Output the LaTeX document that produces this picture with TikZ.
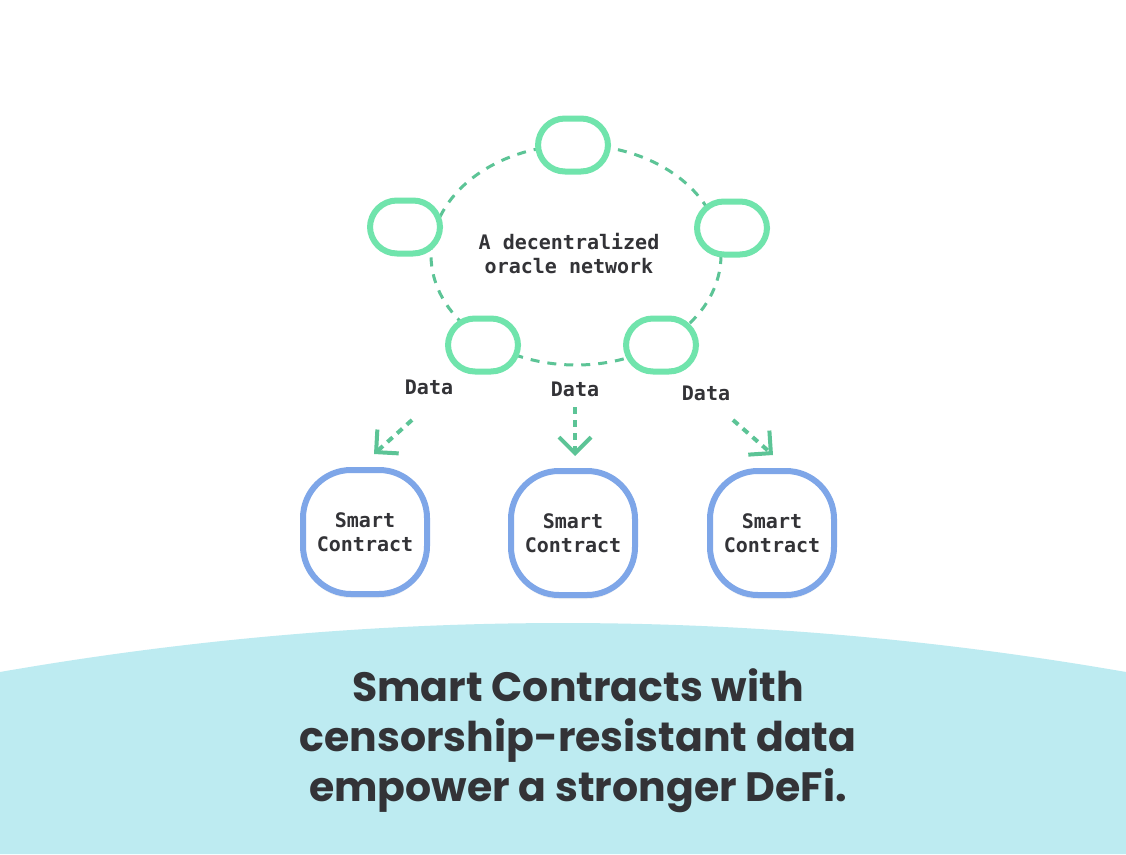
\documentclass[tikz,border=0pt]{standalone}
\usepackage{fontspec}
\usetikzlibrary{arrows.meta,shadows}
\newfontfamily\monofont{DejaVu Sans Mono}
\newfontfamily\titlefont{Poppins}
\definecolor{mint}{RGB}{112,228,172}
\definecolor{ringc}{RGB}{92,196,150}
\definecolor{bluec}{RGB}{126,166,232}
\definecolor{bgc}{RGB}{189,235,241}
\definecolor{txt}{RGB}{51,51,55}
\tikzset{
  oracle/.style={draw=mint, line width=6pt, fill=white, rounded corners=27pt,
    minimum width=70pt, minimum height=53pt, inner sep=0pt},
  contract/.style={draw=bluec, line width=6pt, fill=white, rounded corners=48pt,
    minimum width=124pt, minimum height=124pt, inner sep=0pt, align=center,
    font=\monofont\bfseries\fontsize{20}{24}\selectfont, text=txt,
    drop shadow={opacity=0.10, shadow xshift=0pt, shadow yshift=-4pt}},
  ring/.style={draw=ringc, line width=3pt, dash pattern=on 9pt off 8pt},
  lbl/.style={font=\monofont\bfseries\fontsize{20}{24}\selectfont, text=txt, align=center},
  dataarrow/.style={draw=ringc, line width=4pt, dash pattern=on 7pt off 6pt,
    -{Straight Barb[length=16pt,width=32pt,line width=4pt]}},
}
\begin{document}
\begin{tikzpicture}[x=1pt,y=-1pt]
\useasboundingbox (0,0) rectangle (1126,854);
\fill[white] (0,0) rectangle (1126,854);
% background
\fill[bgc] (0,672) .. controls (375,606.7) and (751,606.7) .. (1126,672) -- (1126,854) -- (0,854) -- cycle;
% ring
\draw[ring] (576,255) ellipse [x radius=145, y radius=110];
% oracle nodes
\node[oracle] (o1) at (573,145) {};
\node[oracle] (o2) at (405,227) {};
\node[oracle] (o3) at (732,228) {};
\node[oracle] (o4) at (483,345) {};
\node[oracle] (o5) at (661,345) {};
\node[lbl] (net) at (569,254) {A decentralized\\oracle network};
% data labels
\node[lbl] (d1) at (429,387) {Data};
\node[lbl] (d2) at (575,389) {Data};
\node[lbl] (d3) at (706,393) {Data};
% contracts
\node[contract] (c1) at (365,532) {Smart\\Contract};
\node[contract] (c2) at (573,533) {Smart\\Contract};
\node[contract] (c3) at (772,533) {Smart\\Contract};
% arrows
\coordinate (s1) at (412,420); \coordinate (t1) at (374,454);
\coordinate (s2) at (575,407); \coordinate (t2) at (575,456);
\coordinate (s3) at (733,420); \coordinate (t3) at (773,455);
\draw[dataarrow] (s1) -- (t1);
\draw[dataarrow] (s2) -- (t2);
\draw[dataarrow] (s3) -- (t3);
% title
\node[font=\titlefont\bfseries\fontsize{41}{50}\selectfont, text=txt, align=center] (title) at (578,741)
  {Smart Contracts with\\censorship-resistant data\\empower a stronger DeFi.};
\end{tikzpicture}
\end{document}
